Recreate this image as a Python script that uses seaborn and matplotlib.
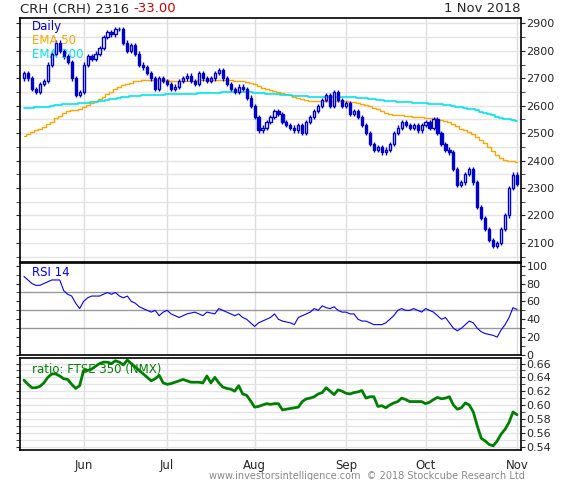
import numpy as np
import pandas as pd
import matplotlib
matplotlib.use("Agg")
import matplotlib.pyplot as plt
import seaborn as sns

sns.set_style("white")
plt.rcParams['font.family'] = ['DejaVu Sans']

dates = pd.bdate_range("2018-05-11", "2018-11-01")
closes = [2720, 2700, 2660, 2650, 2680, 2690, 2750, 2790, 2830, 2800, 2780, 2760, 2700, 2640, 2650,
          2750, 2780, 2770, 2790, 2810, 2850, 2870, 2860, 2880, 2880, 2830, 2800, 2820, 2790, 2750, 2740, 2720, 2700, 2660, 2700, 2690,
          2680, 2660, 2670, 2690, 2700, 2710, 2690, 2680, 2720, 2700, 2690, 2700, 2720, 2730, 2700, 2680, 2660, 2650, 2670, 2660, 2630, 2600,
          2560, 2510, 2520, 2540, 2560, 2580, 2570, 2540, 2530, 2520, 2510, 2530, 2500, 2540, 2560, 2580, 2600, 2620, 2640, 2600, 2650, 2620, 2600,
          2610, 2570, 2580, 2560, 2530, 2500, 2460, 2440, 2450, 2430, 2440, 2460, 2500, 2520, 2540, 2530, 2520, 2530, 2510, 2530,
          2540, 2520, 2550, 2500, 2460, 2440, 2430, 2370, 2310, 2320, 2350, 2370, 2320, 2230, 2190, 2150, 2110, 2090, 2100, 2150, 2200, 2300, 2349,
          2316]
first_open = 2700
rsi = [88, 84, 80, 78, 78, 80, 82, 84, 84, 84, 72, 68, 66, 58, 52,
       60, 64, 66, 66, 66, 68, 70, 68, 70, 66, 64, 66, 60, 58, 54, 52, 50, 48, 50, 44, 48,
       50, 46, 44, 42, 44, 46, 47, 48, 46, 44, 48, 47, 46, 52, 50, 48, 46, 44, 46, 42, 40, 36,
       32, 36, 38, 40, 42, 46, 40, 38, 37, 36, 34, 42, 44, 46, 48, 52, 50, 55, 53, 52, 54, 50, 48,
       48, 46, 46, 40, 38, 38, 36, 34, 34, 34, 36, 40, 44, 50, 52, 50, 50, 52, 50, 48,
       52, 50, 48, 44, 40, 42, 36, 30, 27, 30, 34, 38, 36, 30, 26, 24, 23, 22, 20, 28, 34, 42, 53,
       51]
ratio = [.636, .630, .625, .625, .627, .632, .640, .645, .645, .642, .638, .637, .630, .624, .628,
         .650, .650, .652, .656, .660, .662, .662, .660, .664, .662, .658, .665, .660, .655, .650, .645, .640, .635, .638, .643, .632,
         .630, .631, .633, .635, .637, .635, .633, .633, .633, .632, .642, .632, .640, .632, .626, .624, .623, .620, .628, .616, .614, .606,
         .597, .598, .600, .602, .601, .602, .602, .593, .594, .595, .596, .597, .605, .609, .610, .612, .616, .618, .625, .620, .615, .622, .620,
         .617, .616, .618, .619, .621, .610, .612, .612, .598, .599, .596, .600, .603, .605, .610, .608, .605, .605, .605, .605,
         .602, .604, .608, .611, .609, .610, .612, .600, .594, .596, .603, .600, .590, .570, .552, .548, .543, .541, .548, .558, .565, .575, .590,
         .586]
ema50_seed, ema200_seed = 2480, 2590
month_labels = ["Jun", "Jul", "Aug", "Sep", "Oct", "Nov"]

n = len(dates)
x = np.arange(n)
c = np.array(closes, float)
o = np.r_[first_open, c[:-1]]
hi = np.maximum(o, c) + 8
lo = np.minimum(o, c) - 8

def ema(vals, seed, span):
    a = 2 / (span + 1); out = []; e = seed
    for v in vals:
        e = e + a * (v - e); out.append(e)
    return np.array(out)

df = pd.DataFrame({"x": x, "ema50": ema(c, ema50_seed, 50), "ema200": ema(c, ema200_seed, 200),
                   "rsi": rsi, "ratio": ratio})
mpos = [i for i in range(1, n) if dates[i].month != dates[i - 1].month]

fig = plt.figure(figsize=(5.75, 4.8), dpi=100)
W = 575; H = 480
def axr(l, t, r, b):
    return fig.add_axes([l / W, 1 - b / H, (r - l) / W, (b - t) / H])
ax1 = axr(20, 18, 521, 262)
ax2 = axr(20, 263, 521, 355)
ax3 = axr(20, 358, 521, 450)

blue = "#0000CC"
for ax in (ax1, ax2, ax3):
    ax.set_xlim(-1, n)
    for m in mpos:
        ax.axvline(m, color="#dddddd", lw=1, zorder=0)
    ax.yaxis.tick_right()
    ax.tick_params(axis="y", which="both", right=True, left=True, length=3, labelsize=8, pad=1)
    ax.set_xticks(mpos)
    ax.tick_params(axis="x", length=3)
    ax.set_xticklabels([])
    for s in ax.spines.values():
        s.set_color("black"); s.set_linewidth(1.2)

ax1.set_ylim(2030, 2920)
ax1.set_yticks(range(2100, 3000, 100))
ax1.set_yticks(range(2050, 2920, 50), minor=True)
ax1.grid(axis="y", which="both", color="#e4e4e4", lw=1)
ax1.set_axisbelow(True)
up = c >= o
ax1.vlines(x, lo, hi, color=blue, lw=1, zorder=3)
ax1.bar(x[up], (c - o)[up], bottom=o[up], width=0.55, color="white", edgecolor=blue, lw=1, zorder=4)
ax1.bar(x[~up], (c - o)[~up], bottom=o[~up], width=0.55, color=blue, edgecolor=blue, lw=1, zorder=4)
sns.lineplot(data=df, x="x", y="ema50", ax=ax1, color="#FFA500", lw=1, drawstyle="steps-mid", zorder=2)
sns.lineplot(data=df, x="x", y="ema200", ax=ax1, color="#00E5EE", lw=1.2, drawstyle="steps-mid", zorder=2)
ax1.text(2, 2875, "Daily", color=blue, fontsize=8.5)
ax1.text(2, 2825, "EMA 50", color="#FFA500", fontsize=8.5)
ax1.text(2, 2775, "EMA 200", color="#00E5EE", fontsize=8.5)

ax2.set_ylim(0, 103)
ax2.set_yticks(range(0, 101, 20))
ax2.set_yticks(range(0, 101, 10), minor=True)
for lvl in (30, 50, 70):
    ax2.axhline(lvl, color="#999999", lw=1, zorder=1)
sns.lineplot(data=df, x="x", y="rsi", ax=ax2, color="#0000FF", lw=0.8)
ax2.text(2, 92, "RSI 14", color="#0000FF", fontsize=8.5, va="center")

ax3.set_ylim(0.535, 0.668)
ax3.set_yticks(np.arange(0.54, 0.661, 0.02))
ax3.set_yticks(np.arange(0.54, 0.661, 0.01), minor=True)
ax3.set_yticklabels([f"{v:.2f}" for v in np.arange(0.54, 0.661, 0.02)])
ax3.grid(axis="y", which="both", color="#e4e4e4", lw=1)
ax3.set_axisbelow(True)
sns.lineplot(data=df, x="x", y="ratio", ax=ax3, color="#008000", lw=2)
ax3.text(2, 0.652, "ratio: FTSE 350 (NMX)", color="#008000", fontsize=8.5, va="center")
ax3.set_xticklabels(month_labels, fontsize=8.5)

for ax in (ax1, ax2, ax3):
    ax.set_xlabel(""); ax.set_ylabel("")

t = fig.text(20 / W, 1 - 9 / H, "CRH (CRH) 2316 ", fontsize=9.5, va="center")
fig.canvas.draw()
bb = t.get_window_extent()
fig.text(bb.x1 / W, 1 - 9 / H, "-33.00", fontsize=9.5, va="center", color="#CC0000")
fig.text(521 / W, 1 - 9 / H, "1 Nov 2018", fontsize=9.5, va="center", ha="right")
fig.text(525 / W, 1 - 476 / H, "www.investorsintelligence.com  © 2018 Stockcube Research Ltd",
         fontsize=7, color="#888888", ha="right", va="center")
fig.savefig("out.png", dpi=100, facecolor="white")
